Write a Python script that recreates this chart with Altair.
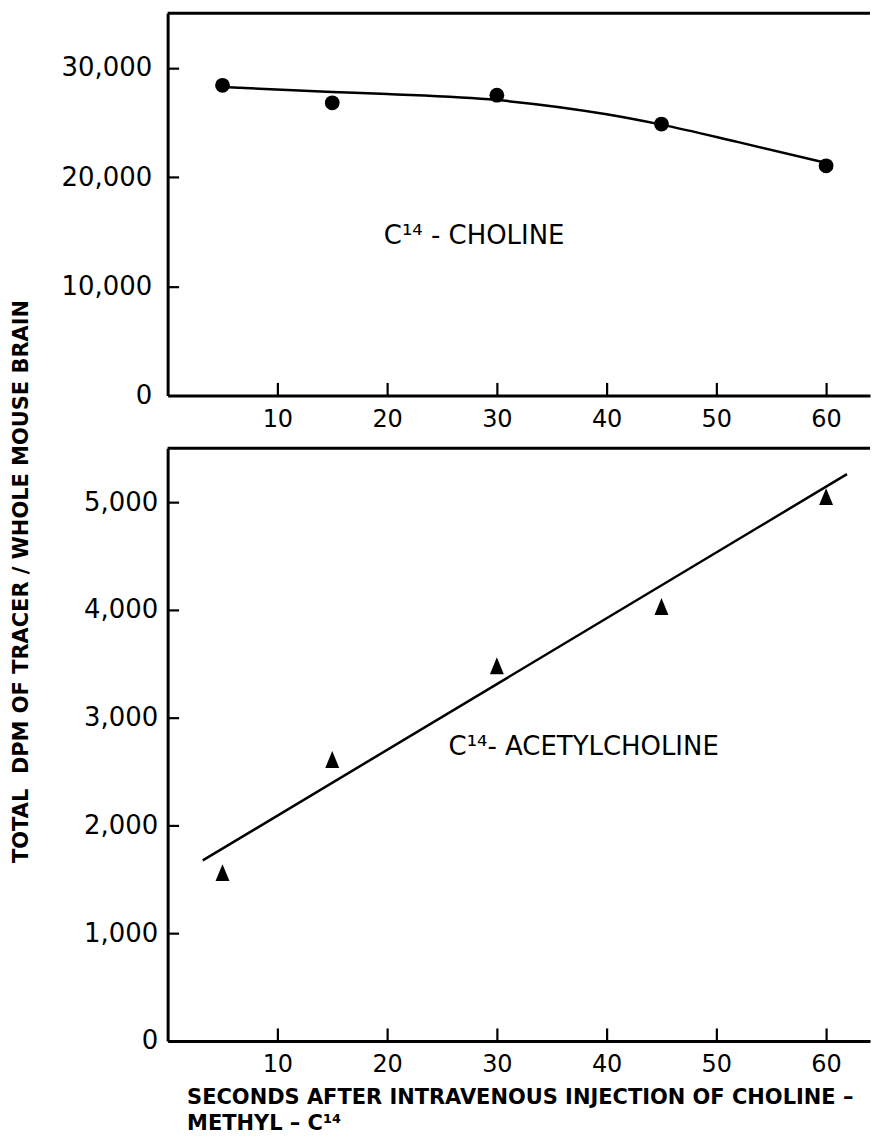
import altair as alt
import pandas as pd

# ---- data ----
choline_t = [5, 15, 30, 45, 60]
choline_dpm = [28400, 26800, 27500, 24850, 21030]
choline_curve_t = [5, 15, 20, 30, 40, 45, 52, 60]
choline_curve_dpm = [28250, 27800, 27600, 27050, 25750, 24800, 23200, 21300]

acetyl_t = [5, 15, 30, 45, 60]
acetyl_dpm = [1560, 2610, 3480, 4030, 5050]
acetyl_fit_t = [3.2, 61.9]
acetyl_fit_dpm = [1675, 5260]

x_ticks = [10, 20, 30, 40, 50, 60]
top_y_ticks = [10000, 20000, 30000]
top_y_labels = [0, 10000, 20000, 30000]
bottom_y_ticks = [1000, 2000, 3000, 4000, 5000]
bottom_y_labels = [0, 1000, 2000, 3000, 4000, 5000]

x_domain = [0, 64]
top_y_domain = [0, 35000]
bottom_y_domain = [0, 5500]

top_label = ["C¹⁴ - CHOLINE"]
top_label_t = [19.7]
top_label_v = [13880]
bottom_label = ["C¹⁴- ACETYLCHOLINE"]
bottom_label_t = [25.6]
bottom_label_v = [2653]

x_title = ["SECONDS AFTER INTRAVENOUS INJECTION OF CHOLINE –", "METHYL – C¹⁴"]
y_title = "TOTAL\u00a0 DPM OF TRACER / WHOLE MOUSE BRAIN"

FONT = "DejaVu Sans"
W = 704
TRIANGLE = "M0,-1.05L0.85,1L-0.85,1Z"


def panel(pts_t, pts_v, line_t, line_v, y_domain, y_ticks, y_labels, shape, size,
          label, label_t, label_v, height, bottom):
    xs = alt.Scale(domain=x_domain, nice=False, zero=False)
    ys = alt.Scale(domain=y_domain, nice=False, zero=False)
    if bottom:
        x_axis = alt.Axis(values=x_ticks, title=x_title, ticks=False, grid=False,
                          labelPadding=12, labelFontSize=24,
                          titleX=19, titleY=46, titleAlign="left",
                          titleBaseline="top", titleFont=FONT, titleFontSize=21,
                          titleFontWeight="bold", titleLineHeight=26, titleColor="black")
        y_axis = alt.Axis(values=y_labels, format=",d", title=y_title, ticks=False,
                          grid=False, labelPadding=10, labelFontSize=26,
                          minExtent=160, maxExtent=160,
                          titleX=-146, titleY=133, titleAngle=270, titleAlign="center",
                          titleBaseline="middle", titlePadding=0, titleFont=FONT,
                          titleFontSize=21, titleFontWeight="bold", titleColor="black")
    else:
        x_axis = alt.Axis(values=x_ticks, title=None, ticks=False, grid=False,
                          labelPadding=12, labelFontSize=24)
        y_axis = alt.Axis(values=y_labels, format=",d", title=None, ticks=False,
                          grid=False, labelPadding=16, labelFontSize=26,
                          minExtent=160, maxExtent=160)

    # inward ticks: a top axis moved down onto the bottom edge (ticks point up)
    # and a right axis moved onto the left edge (ticks point right)
    x_tick_axis = alt.Axis(orient="top", offset=-height, values=x_ticks, title=None,
                           labels=False, domain=False, grid=False, ticks=True,
                           tickSize=13, tickWidth=2.2, tickColor="black")
    y_tick_axis = alt.Axis(orient="right", offset=-W, values=y_ticks, title=None,
                           labels=False, domain=False, grid=False, ticks=True,
                           tickSize=11, tickWidth=2.2, tickColor="black")

    X = lambda f, ax=None: alt.X(f, type="quantitative", scale=xs, axis=ax)
    Y = lambda f, ax=None: alt.Y(f, type="quantitative", scale=ys, axis=ax)

    pts = alt.Chart(pd.DataFrame({"t": pts_t, "v": pts_v})).mark_point(
        filled=True, shape=shape, size=size, color="black", opacity=1
    ).encode(x=X("t", x_axis), y=Y("v", y_axis))
    line = alt.Chart(pd.DataFrame({"t": line_t, "v": line_v})).mark_line(
        color="black", strokeWidth=2.5, interpolate="monotone"
    ).encode(x=X("t", x_tick_axis), y=Y("v", y_tick_axis))
    border = alt.Chart(pd.DataFrame({"t": [x_domain[0]], "t2": [x_domain[1]],
                                     "v": [y_domain[1]]})).mark_rule(
        color="black", strokeWidth=3
    ).encode(x=X("t"), x2="t2", y=Y("v"))
    txt = alt.Chart(pd.DataFrame({"t": label_t, "v": label_v, "s": label})).mark_text(
        align="left", baseline="alphabetic", font=FONT, fontSize=26, color="black"
    ).encode(x=X("t"), y=Y("v"), text="s:N")
    return alt.layer(pts, line, border, txt).resolve_axis(
        x="independent", y="independent"
    ).properties(width=W, height=height)


top = panel(choline_t, choline_dpm, choline_curve_t, choline_curve_dpm, top_y_domain,
            top_y_ticks, top_y_labels, "circle", 220, top_label, top_label_t,
            top_label_v, 383, False)
bottom = panel(acetyl_t, acetyl_dpm, acetyl_fit_t, acetyl_fit_dpm, bottom_y_domain,
               bottom_y_ticks, bottom_y_labels, TRIANGLE, 270, bottom_label,
               bottom_label_t, bottom_label_v, 594, True)

chart = alt.vconcat(top, bottom, spacing=53, bounds="flush").properties(
    padding={"left": 0, "top": 2, "right": 0, "bottom": 0},
    background="white",
).configure_view(stroke=None).configure_axis(
    domainColor="black", domainWidth=3, labelColor="black", labelFont=FONT,
    grid=False, ticks=False,
)

chart.save("out.html", embed_options={"renderer": "svg", "actions": False})
